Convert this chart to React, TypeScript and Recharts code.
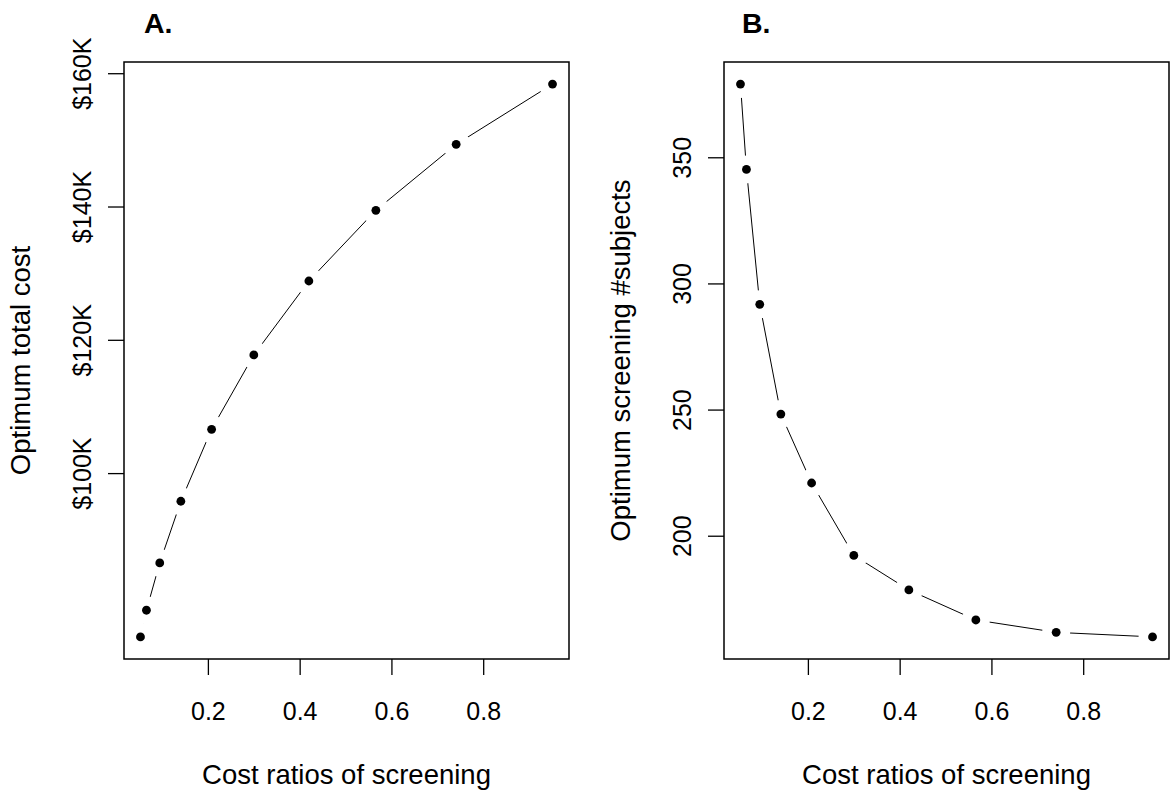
import { LineChart, Line, XAxis, YAxis, ReferenceArea } from "recharts";

const costRatios = [0.052, 0.065, 0.094, 0.14, 0.207, 0.299, 0.419, 0.565, 0.74, 0.95];
const totalCost = [75500, 79500, 86600, 95850, 106650, 117800, 128900, 139500, 149400, 158440];
const screeningSubjects = [379.2, 345.4, 291.9, 248.4, 221.1, 192.4, 178.7, 166.8, 161.9, 160.1];

const xTicks = [0.2, 0.4, 0.6, 0.8];
const costTicks = [100000, 120000, 140000, 160000];
const subjectTicks = [200, 250, 300, 350];

const FONT = "'Liberation Sans', Arial, sans-serif";

// R-style axis range: data range padded by 4% on each side
const padRange = (vals: number[]): [number, number] => {
  const lo = Math.min(...vals);
  const hi = Math.max(...vals);
  const d = (hi - lo) * 0.04;
  return [lo - d, hi + d];
};

const GapDot = (props: any) => {
  const { cx, cy, index } = props;
  return (
    <g key={`dot-${index}`}>
      <circle cx={cx} cy={cy} r={14} fill="#fff" />
      <circle cx={cx} cy={cy} r={4.4} fill="#000" />
    </g>
  );
};

const XTick = (props: any) => {
  const { x, y, payload } = props;
  return (
    <text x={x} y={y + 45} textAnchor="middle" fontSize={25} fontFamily={FONT} fill="#000">
      {payload.value}
    </text>
  );
};

const makeYTick = (fmt: (v: number) => string) => (props: any) => {
  const { x, y, payload } = props;
  return (
    <text
      transform={`translate(${x - 17}, ${y}) rotate(-90)`}
      textAnchor="middle"
      fontSize={25}
      fontFamily={FONT}
      fill="#000"
    >
      {fmt(payload.value)}
    </text>
  );
};

const xTitle = (props: any) => {
  const vb = props.viewBox;
  return (
    <text x={vb.x + vb.width / 2} y={vb.y + 125} textAnchor="middle" fontSize={27.5} fontFamily={FONT} fill="#000">
      Cost ratios of screening
    </text>
  );
};

const yTitle = (text: string) => (props: any) => {
  const vb = props.viewBox;
  const cy = vb.y + vb.height / 2;
  return (
    <text
      transform={`translate(${vb.x + 30}, ${cy}) rotate(-90)`}
      textAnchor="middle"
      fontSize={27.5}
      fontFamily={FONT}
      fill="#000"
    >
      {text}
    </text>
  );
};

type PanelProps = {
  values: number[];
  yTicks: number[];
  fmt: (v: number) => string;
  yLabel: string;
};

const Panel = ({ values, yTicks, fmt, yLabel }: PanelProps) => {
  const data = costRatios.map((x, i) => ({ x, y: values[i] }));
  const xDomain = padRange(costRatios);
  const yDomain = padRange(values);
  return (
    <LineChart width={600} height={791} data={data} margin={{ top: 62, right: 31, bottom: 0, left: 0 }}>
      <XAxis
        type="number"
        dataKey="x"
        domain={xDomain}
        ticks={xTicks}
        allowDataOverflow
        height={132}
        axisLine={false}
        tickSize={16}
        tickMargin={0}
        tickLine={{ stroke: "#000", strokeWidth: 1.3 }}
        tick={<XTick />}
        label={{ content: xTitle }}
      />
      <YAxis
        type="number"
        dataKey="y"
        domain={yDomain}
        ticks={yTicks}
        allowDataOverflow
        width={124}
        axisLine={false}
        tickSize={16}
        tickMargin={0}
        tickLine={{ stroke: "#000", strokeWidth: 1.3 }}
        tick={makeYTick(fmt)}
        label={{ content: yTitle(yLabel) }}
      />
      <ReferenceArea
        x1={xDomain[0]}
        x2={xDomain[1]}
        y1={yDomain[0]}
        y2={yDomain[1]}
        fill="none"
        stroke="#000"
        strokeWidth={1.5}
        fillOpacity={0}
      />
      <Line
        type="linear"
        dataKey="y"
        stroke="#000"
        strokeWidth={1}
        dot={GapDot}
        activeDot={false}
        isAnimationActive={false}
      />
    </LineChart>
  );
};

const panelTitle: React.CSSProperties = {
  position: "absolute",
  top: 9,
  fontFamily: FONT,
  fontWeight: "bold",
  fontSize: 28.5,
  lineHeight: "28px",
};

export default function App() {
  return (
    <div style={{ position: "absolute", left: 0, top: 0, width: 1173, height: 791, background: "#fff" }}>
      <div style={{ position: "absolute", left: 0, top: 0 }}>
        <Panel
          values={totalCost}
          yTicks={costTicks}
          fmt={(v) => `$${v / 1000}K`}
          yLabel="Optimum total cost"
        />
      </div>
      <div style={{ position: "absolute", left: 600, top: 0 }}>
        <Panel
          values={screeningSubjects}
          yTicks={subjectTicks}
          fmt={(v) => `${v}`}
          yLabel="Optimum screening #subjects"
        />
      </div>
      <div style={{ ...panelTitle, left: 144 }}>A.</div>
      <div style={{ ...panelTitle, left: 742 }}>B.</div>
    </div>
  );
}
